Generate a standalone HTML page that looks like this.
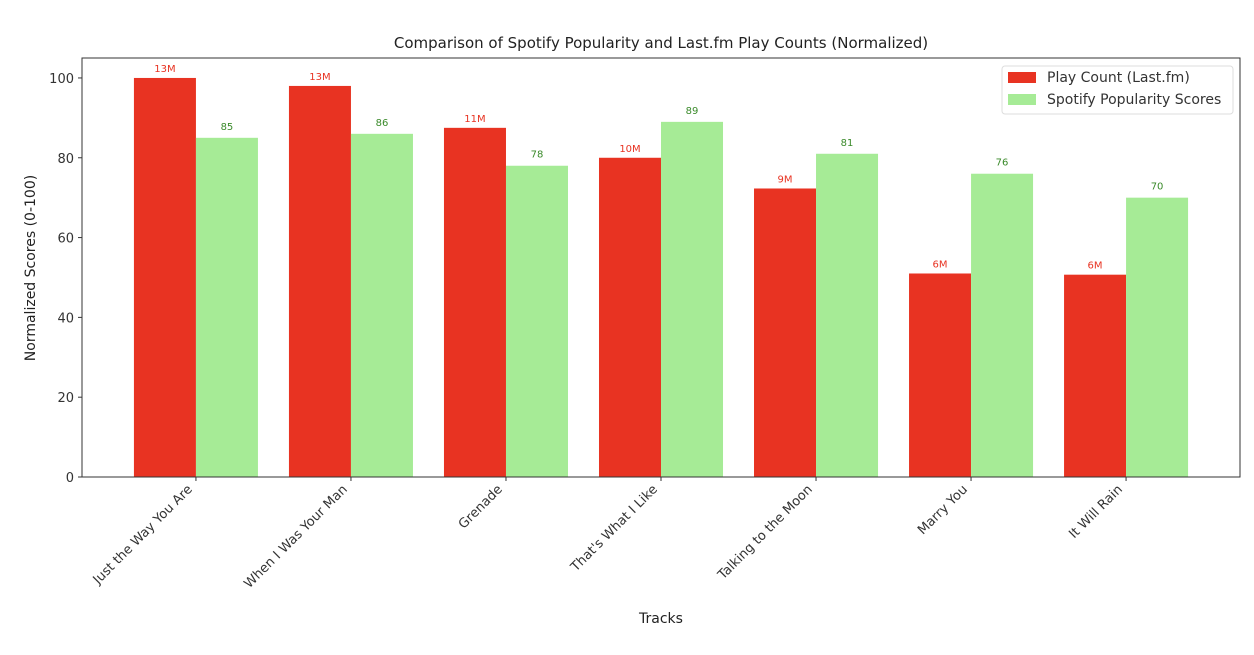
<!DOCTYPE html>
<html><head><meta charset="utf-8"><style>
body{margin:0;background:#fff;}
text{font-family:"DejaVu Sans","Liberation Sans",sans-serif;}
</style></head><body>
<svg id="chart" width="1254" height="650" xmlns="http://www.w3.org/2000/svg"></svg>
<script>
const categories=["Just the Way You Are","When I Was Your Man","Grenade","That's What I Like","Talking to the Moon","Marry You","It Will Rain"];
const playCounts=[100,98,87.5,80,72.3,51,50.7];
const playLabels=["13M","13M","11M","10M","9M","6M","6M"];
const spotifyScores=[85,86,78,89,81,76,70];
const yTicks=[0,20,40,60,80,100];

const svg=document.getElementById('chart');
const NS="http://www.w3.org/2000/svg";
const L=82,R=1240,T=58,B=477;
const y=v=>B-(v/105)*(B-T);
const step=(R-L)/(categories.length-1+1.47);
const x=i=>L+step*0.735+i*step;
const bw=step*0.4;
function el(tag,attrs,txt){const e=document.createElementNS(NS,tag);for(const k in attrs)e.setAttribute(k,attrs[k]);if(txt!==undefined)e.textContent=txt;svg.appendChild(e);return e;}

let t=el('text',{x:661,y:48,'text-anchor':'middle','font-size':15,fill:'#222'},'Comparison of Spotify Popularity and Last.fm Play Counts (Normalized)');



categories.forEach((c,i)=>{
  const cx=x(i);
  let r=el('rect',{x:cx-bw,y:y(playCounts[i]),width:bw,height:B-y(playCounts[i]),fill:'#e83322'});
  
  
  let g=el('rect',{x:cx,y:y(spotifyScores[i]),width:bw,height:B-y(spotifyScores[i]),fill:'#a6eb96'});
  
  
  let lt=el('text',{x:cx-bw/2,y:y(playCounts[i])-6,'text-anchor':'middle','font-size':10,fill:'#e83322'},playLabels[i]);
  
  
  let gt=el('text',{x:cx+bw/2,y:y(spotifyScores[i])-8,'text-anchor':'middle','font-size':10,fill:'#3a8a2a'},String(spotifyScores[i]));
  
  
  el('line',{x1:cx,x2:cx,y1:B,y2:B+4,stroke:'#333'});
  let xl=el('text',{x:cx-3,y:B+13,'text-anchor':'end','font-size':13,fill:'#333',transform:`rotate(-45 ${cx-3} ${B+13})`},c);
  
  
});

yTicks.forEach(v=>{
  el('line',{x1:L-4,x2:L,y1:y(v),y2:y(v),stroke:'#333'});
  let yl=el('text',{x:L-8,y:y(v)+5,'text-anchor':'end','font-size':13,fill:'#333'},String(v));
  
  
});

let frame=el('rect',{x:L,y:T,width:R-L,height:B-T,fill:'none',stroke:'#333','stroke-width':1});



let xt=el('text',{x:661,y:623,'text-anchor':'middle','font-size':14,fill:'#222'},'Tracks');


let yt=el('text',{x:35,y:268,'text-anchor':'middle','font-size':14,fill:'#222',transform:'rotate(-90 35 268)'},'Normalized Scores (0-100)');



let lg=el('rect',{x:1002,y:66,width:231,height:48,fill:'#fff',stroke:'#ddd',rx:3});


el('rect',{x:1008,y:72,width:28,height:11,fill:'#e83322'});
el('rect',{x:1008,y:94,width:28,height:11,fill:'#a6eb96'});
let l1=el('text',{x:1047,y:82,'font-size':14,fill:'#333'},'Play Count (Last.fm)');


let l2=el('text',{x:1047,y:104,'font-size':14,fill:'#333'},'Spotify Popularity Scores');


</script>
</body></html>
